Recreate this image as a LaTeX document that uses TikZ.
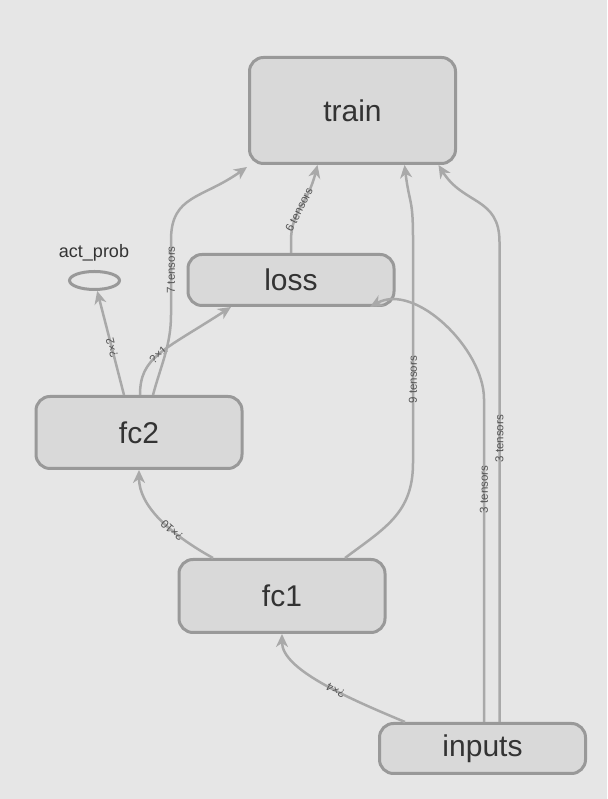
\documentclass[tikz,border=0pt]{standalone}
\usepackage{fontspec}
\setmainfont{Liberation Sans}
\usetikzlibrary{arrows.meta,shapes.geometric}
\definecolor{bgcol}{HTML}{E6E6E6}
\definecolor{boxfill}{HTML}{D9D9D9}
\definecolor{boxline}{HTML}{999999}
\definecolor{edgecol}{HTML}{A9A9A9}
\definecolor{txtcol}{HTML}{333333}
\definecolor{lblcol}{HTML}{555555}
\begin{document}
\begin{tikzpicture}[x=1pt,y=1pt]
\tikzstyle{opbox}=[draw=boxline, fill=boxfill, line width=3pt, rounded corners=14pt, minimum width=206pt, text=txtcol, font=\fontsize{30}{30}\selectfont, inner sep=0pt]
\tikzstyle{flow}=[draw=edgecol, line width=2.5pt, -{Stealth[length=13pt,width=12pt,inset=4pt]}]
\tikzstyle{lbl}=[sloped, allow upside down, text=lblcol, font=\fontsize{11.5}{11.5}\selectfont, inner sep=1pt]
\fill [bgcol] (0,0) rectangle (607,799);
\useasboundingbox (0,0) rectangle (607,799);
\node [opbox, minimum height=106pt] (train) at (352.5,688.5) {train};
\node [opbox, minimum height=51pt] (loss) at (291,519) {loss};
\node [opbox, minimum height=72pt] (fctwo) at (139,366.5) {fc2};
\node [opbox, minimum height=73pt] (fcone) at (282,203) {fc1};
\node [opbox, minimum height=50pt] (inputs) at (482.5,50.5) {inputs};
\node [ellipse, draw=boxline, line width=3pt, minimum width=50pt, minimum height=18pt, inner sep=0pt] (actprob) at (94.5,518.5) {};
\node [text=txtcol, font=\fontsize{18}{18}\selectfont] (actlbl) at (94,546) {act\_prob};
\draw [flow] ([xshift=-15pt]fctwo.north) -- (actprob) node [lbl, pos=0.45] {?×2};
\draw [flow] ([xshift=1pt]fctwo.north) .. controls +(0,38) and +(-68,-44) .. ([xshift=-60pt]loss.south) node [lbl, pos=0.48] {?×1};
\draw [flow] ([xshift=14pt]fctwo.north) .. controls +(8,30) and +(0,-30) .. ++(18,80) -- ++(0,75) node [lbl, pos=0.6] {7 tensors} .. controls +(0,45) and +(-45,-32) .. ([shift={(-1pt,-2pt)}]train.south west);
\draw [flow] (loss.north) -- ++(0,12) .. controls +(0,30) and +(-10,-40) .. ([xshift=-35pt]train.south) node [lbl, pos=0.45] {6 tensors};
\draw [flow] ([xshift=63pt]fcone.north) .. controls +(40,30) and +(0,-50) .. ++(68,95) -- ++(0,225) node [lbl, pos=0.37] {9 tensors} .. controls +(0,40) and +(5,-40) .. ([xshift=52pt]train.south);
\draw [flow] ([xshift=17pt]inputs.north) -- ++(0,480) node [lbl, pos=0.59] {3 tensors} .. controls +(0,45) and +(25,-40) .. ([xshift=86pt]train.south);
\draw [flow] ([xshift=1.5pt]inputs.north) -- ++(0,323) node [lbl, pos=0.72] {3 tensors} .. controls +(0,50) and +(45,25) .. ([xshift=79pt]loss.south);
\draw [flow] ([xshift=-69pt]fcone.north) .. controls +(-45,25) and +(0,-35) .. (fctwo.south) node [lbl, pos=0.35] {?×10};
\draw [flow] ([xshift=-77.5pt]inputs.north) .. controls +(-60,25) and +(0,-35) .. (fcone.south) node [lbl, pos=0.4] {?×4};
\end{tikzpicture}
\end{document}
